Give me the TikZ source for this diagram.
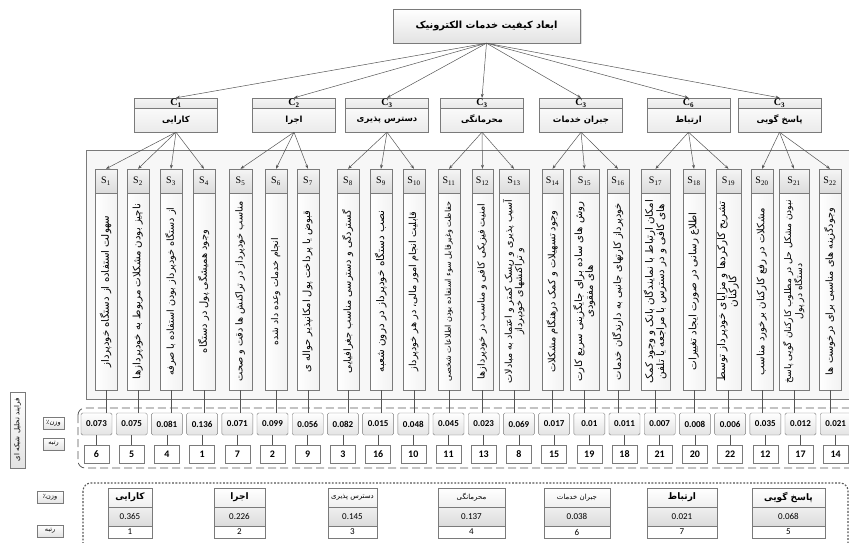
\documentclass[tikz,border=0pt]{standalone}
\usepackage{fontspec}
\setmainfont{Liberation Serif}
\newfontfamily\fa[Script=Arabic]{DejaVu Sans}
\newfontfamily\carl{Carlito}
\TeXXeTstate=1
\usetikzlibrary{arrows.meta,shadows}
\definecolor{bd}{HTML}{7A7A7A}
\definecolor{ln}{HTML}{555555}
\tikzset{
  conn/.style={draw=ln, line width=0.5pt, -{Stealth[length=4pt,width=3pt]}},
  pl/.style={draw=ln, line width=0.5pt},
  titlebox/.style={draw=bd, top color=white, bottom color=gray!22, minimum width=187, minimum height=34, inner sep=0, font=\fa\bfseries\fontsize{11}{13}\selectfont, drop shadow={opacity=0.25, shadow xshift=1.5pt, shadow yshift=-1.5pt}},
  chead/.style={draw=bd, top color=gray!8, bottom color=gray!18, minimum width=83, minimum height=10, inner sep=0, font=\bfseries\fontsize{10}{10}\selectfont},
  cbody/.style={draw=bd, top color=gray!4, bottom color=gray!16, minimum width=83, minimum height=24, inner sep=0, font=\fa\bfseries\fontsize{8.5}{10}\selectfont},
  shead/.style={draw=bd, top color=gray!8, bottom color=gray!28, minimum height=24, inner sep=0, font=\fontsize{10}{10}\selectfont},
  sbody/.style={draw=bd, left color=white, right color=gray!10, minimum height=197, inner sep=0},
  stext/.style={rotate=90, inner sep=0},
  wbox/.style={draw=bd, top color=white, bottom color=gray!22, minimum width=31, minimum height=22, rounded corners=1.5pt, inner sep=0, font=\carl\bfseries\fontsize{9}{9}\selectfont},
  rbox/.style={draw=bd, fill=white, minimum width=25, minimum height=18, inner sep=0, font=\carl\bfseries\fontsize{10}{10}\selectfont},
  lab/.style={draw=bd, top color=white, bottom color=gray!22, minimum width=21, minimum height=12, inner sep=0, font=\fa\fontsize{6.5}{7}\selectfont},
  thead/.style={draw=bd, top color=white, bottom color=gray!12, minimum height=19, inner sep=0},
  tval/.style={draw=bd, top color=gray!12, bottom color=gray!28, minimum height=19, inner sep=0, font=\carl\fontsize{9}{9}\selectfont},
  trank/.style={draw=bd, fill=white, minimum height=12, inner sep=0, font=\carl\fontsize{9}{9}\selectfont},
}
\newcommand\fitR[2]{\resizebox{#1pt}{!}{\fa\fontsize{10}{10.5}\selectfont\begin{tabular}{@{}c@{}}#2\end{tabular}}}
\newcommand\cbx[4]{%
  \node[chead] (ch#1) at (#2,103) {C\textsubscript{#3}};
  \node[cbody] (cb#1) at (#2,120) {#4};}
\newcommand\sbx[5]{%
  \node[shead, minimum width=#3] (h#1) at (#2,181) {S\textsubscript{#1}};
  \node[sbody, minimum width=#3] (b#1) at (#2,291.5) {};
  \node[stext] (x#1) at (b#1.center) {\fitR{#4}{#5}};
  \draw[pl] (b#1.south) -- (b#1.south |- w#1.north);}
\newcommand\mytbl[6]{%
  \node[thead, minimum width=#3] (th#1) at (#2,497.5) {#4};
  \node[tval, minimum width=#3] (tv#1) at (#2,516.5) {#5};
  \node[trank, minimum width=#3] (tr#1) at (#2,532) {#6};}
\begin{document}
\begin{tikzpicture}[x=1pt,y=-1pt]
\useasboundingbox (0,0) rectangle (849,543);
\clip (0,0) rectangle (849,543);
% panels
\draw[draw=bd, fill=gray!6] (86,150) rectangle (858,399);
\draw[draw=ln, line width=0.8pt, dash pattern=on 8pt off 4pt, rounded corners=7pt] (78,408) rectangle (862,468);
\draw[draw=ln, line width=1.1pt, dash pattern=on 1.8pt off 1.6pt, rounded corners=8pt] (83,483) rectangle (848,570);
% title
\node[titlebox] (title) at (486.5,26) {\resizebox{142pt}{!}{\beginR ابعاد کیفیت خدمات الکترونیک\endR}};
% criteria
\cbx{1}{176}{1}{\beginR کارایی\endR}
\cbx{2}{294}{2}{\beginR اجرا\endR}
\cbx{3}{387}{3}{\beginR دسترس پذیری\endR}
\cbx{4}{482}{3}{\beginR محرمانگی\endR}
\cbx{5}{581}{3}{\beginR جبران خدمات\endR}
\cbx{6}{688.5}{6}{\beginR ارتباط\endR}
\cbx{7}{779.5}{3}{\beginR پاسخ گویی\endR}
\foreach \i in {1,...,7} \draw[conn] (title.south) -- (ch\i.north);
% weights and ranks
\foreach \i/\w/\r in {1/0.073/6,2/0.075/5,3/0.081/4,4/0.136/1,5/0.071/7,6/0.099/2,7/0.056/9,8/0.082/3,9/0.015/16,10/0.048/10,11/0.045/11,12/0.023/13,13/0.069/8,14/0.017/15,15/0.01/19,16/0.011/18,17/0.007/21,18/0.008/20,19/0.006/22,20/0.035/12,21/0.012/17,22/0.021/14}{
  \node[wbox] (w\i) at ({96.5+(\i-1)*35.2},424) {\w};
  \node[rbox] (r\i) at ({96.5+(\i-1)*35.2},454) {\r};
  \draw[pl] (w\i) -- (r\i);
}
% sub-criteria
\sbx{1}{106}{22}{152}{\beginR سهولت استفاده از دستگاه خودپرداز\endR}
\sbx{2}{138}{22}{175}{\beginR ناچیز بودن مشکلات مربوط به خودپردازها\endR}
\sbx{3}{171}{22}{168}{\beginR از دستگاه خودپرداز بودن استفاده با صرفه\endR}
\sbx{4}{204}{22}{123}{\beginR وجود همیشگی پول در دستگاه\endR}
\sbx{5}{240.5}{23}{180}{\beginR مناسب خودپرداز در تراکنش ها دقت و صحت\endR}
\sbx{6}{276}{22}{107}{\beginR انجام خدمات وعده داد شده\endR}
\sbx{7}{308}{22}{162}{\beginR قبوض یا پرداخت پول امکانپذیر حواله ی\endR}
\sbx{8}{348}{22}{163}{\beginR گستردگی و دسترسی مناسب جغرافیایی\endR}
\sbx{9}{381}{22}{162}{\beginR نصب دستگاه خودپرداز در درون شعبه\endR}
\sbx{10}{414}{22}{160}{\beginR قابلیت انجام امور مالی، در هر خودپرداز\endR}
\sbx{11}{449}{22}{180}{\beginR حفاظت وغیرقابل سوء استفاده بودن اطلاعات شخصی\endR}
\sbx{12}{482.5}{21}{175}{\beginR امنیت فیزیکی کافی و مناسب در خودپردازها\endR}
\sbx{13}{514}{30}{183}{\beginR آسیب پذیری و ریسک کمتر و اعتماد به مبادلات\endR\\\beginR و تراکنشهای خودپرداز\endR}
\sbx{14}{552.5}{21}{162}{\beginR وجود تسهیلات و کمک درهنگام مشکلات\endR}
\sbx{15}{584.5}{29}{180}{\beginR روش های ساده برای جایگزینی سریع کارت\endR\\\beginR های مفقودی\endR}
\sbx{16}{618}{22}{177}{\beginR خودپرداز کارتهای جانبی به دارندگان خدمات\endR}
\sbx{17}{655.5}{29}{183}{\beginR امکان ارتباط با نمایندگان بانک و وجود کمک\endR\\\beginR های کافی و در دسترس با مراجعه یا تلفن\endR}
\sbx{18}{694}{22}{158}{\beginR اطلاع رسانی در صورت ایجاد تغییرات\endR}
\sbx{19}{728.5}{25}{180}{\beginR تشریح کارکردها و مزایای خودپرداز توسط\endR\\\beginR کارکنان\endR}
\sbx{20}{762}{22}{167}{\beginR مشکلات در رفع کارکنان برخورد مناسب\endR}
\sbx{21}{794}{30}{183}{\beginR نبودن مشکل حل در مطلوب کارکنان گویی پاسخ\endR\\\beginR دستگاه در پول\endR}
\sbx{22}{830}{22}{167}{\beginR وجودگزینه های مناسبی برای درخوست ها\endR}
\foreach \c/\s in {1/1,1/2,1/3,1/4,2/5,2/6,2/7,3/8,3/9,3/10,4/11,4/12,4/13,5/14,5/15,5/16,6/17,6/18,6/19,7/20,7/21,7/22}
  \draw[conn] (cb\c.south) -- (h\s.north);
% left labels
\node[lab, rotate=90, minimum width=76, minimum height=15, font=\fa\fontsize{7}{8}\selectfont] (anp) at (17.5,430) {\beginR فرایند تحلیل شبکه ای\endR};
\node[lab] (lw1) at (53.5,423.5) {\beginR وزن٪\endR};
\node[lab] (lr1) at (53.5,444) {\beginR رتبه\endR};
\node[lab, minimum width=26] (lw2) at (50,497.5) {\beginR وزن٪\endR};
\node[lab, minimum width=26] (lr2) at (50,531) {\beginR رتبه\endR};
% summary tables
\mytbl{1}{130}{44}{\fa\bfseries\fontsize{9}{9}\selectfont\beginR کارایی\endR}{0.365}{1}
\mytbl{2}{239.5}{51}{\fa\bfseries\fontsize{9}{9}\selectfont\beginR اجرا\endR}{0.226}{2}
\mytbl{3}{352.5}{49}{\fa\fontsize{7}{7}\selectfont\beginR دسترس پذیری\endR}{0.145}{3}
\mytbl{4}{471.5}{67}{\fa\fontsize{7}{7}\selectfont\beginR محرمانگی\endR}{0.137}{4}
\mytbl{5}{577}{66}{\fa\fontsize{7}{7}\selectfont\beginR جبران خدمات\endR}{0.038}{6}
\mytbl{6}{682}{70}{\fa\bfseries\fontsize{9}{9}\selectfont\beginR ارتباط\endR}{0.021}{7}
\mytbl{7}{788.5}{73}{\fa\bfseries\fontsize{9}{9}\selectfont\beginR پاسخ گویی\endR}{0.068}{5}
\end{tikzpicture}
\end{document}
